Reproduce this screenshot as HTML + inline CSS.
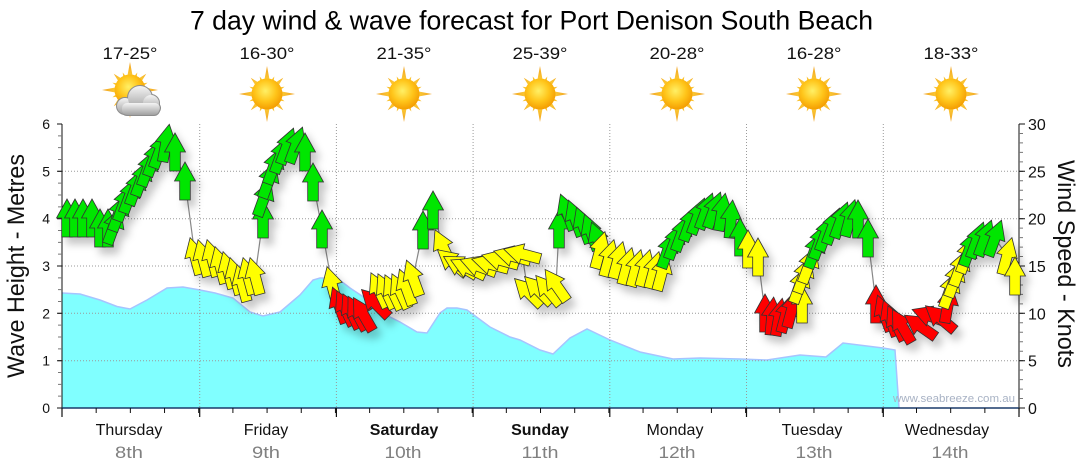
<!DOCTYPE html>
<html><head><meta charset="utf-8"><style>
html,body{margin:0;padding:0;background:#fff;}
svg{display:block;font-family:"Liberation Sans",sans-serif;}
</style></head><body>
<svg width="1080" height="475" viewBox="0 0 1080 475" xmlns="http://www.w3.org/2000/svg">
<defs>
<path id="ar" d="M0,-19 L10.5,0 L5.3,0 L5.3,19 L-5.3,19 L-5.3,0 L-10.5,0 Z" stroke="#333" stroke-width="0.8" stroke-linejoin="miter"/>
<radialGradient id="rayg" gradientUnits="userSpaceOnUse" cx="0" cy="0" r="28">
<stop offset="0.4" stop-color="#ffd43a"/><stop offset="1" stop-color="#f0a020"/></radialGradient>
<radialGradient id="disk" cx="0.45" cy="0.4" r="0.62">
<stop offset="0" stop-color="#fff066"/><stop offset="0.55" stop-color="#ffc51a"/><stop offset="1" stop-color="#f39a00"/></radialGradient>
<linearGradient id="cloudg" x1="0" y1="0" x2="0" y2="1">
<stop offset="0" stop-color="#f4f4f4"/><stop offset="1" stop-color="#a0a0a0"/></linearGradient>
<polygon id="rL" points="-3,-12 0,-28 3,-12"/>
<polygon id="rM" points="-2.6,-12 0,-23 2.6,-12"/>
<polygon id="rS" points="-2,-12 0,-19 2,-12"/>
<g id="sun">
<g fill="url(#rayg)">
<use href="#rL"/><use href="#rL" transform="rotate(90)"/><use href="#rL" transform="rotate(180)"/><use href="#rL" transform="rotate(270)"/>
<use href="#rM" transform="rotate(45)"/><use href="#rM" transform="rotate(135)"/><use href="#rM" transform="rotate(225)"/><use href="#rM" transform="rotate(315)"/>
<use href="#rS" transform="rotate(22.5)"/><use href="#rS" transform="rotate(67.5)"/><use href="#rS" transform="rotate(112.5)"/><use href="#rS" transform="rotate(157.5)"/>
<use href="#rS" transform="rotate(202.5)"/><use href="#rS" transform="rotate(247.5)"/><use href="#rS" transform="rotate(292.5)"/><use href="#rS" transform="rotate(337.5)"/>
</g>
<circle r="15.5" fill="url(#disk)"/>
</g>
<filter id="sh" x="-5%" y="-10%" width="115%" height="140%">
<feDropShadow dx="5" dy="7" stdDeviation="4" flood-color="#000" flood-opacity="0.22"/>
</filter>
</defs>

<!-- title -->
<text x="190" y="29.5" font-size="27" fill="#000" textLength="683" lengthAdjust="spacingAndGlyphs">7 day wind &amp; wave forecast for Port Denison South Beach</text>

<!-- temps -->
<g font-size="17" fill="#111" text-anchor="middle">
<text x="130" y="59" textLength="55" lengthAdjust="spacingAndGlyphs">17-25°</text>
<text x="267" y="59" textLength="55" lengthAdjust="spacingAndGlyphs">16-30°</text>
<text x="404" y="59" textLength="55" lengthAdjust="spacingAndGlyphs">21-35°</text>
<text x="540" y="59" textLength="55" lengthAdjust="spacingAndGlyphs">25-39°</text>
<text x="677" y="59" textLength="55" lengthAdjust="spacingAndGlyphs">20-28°</text>
<text x="814" y="59" textLength="55" lengthAdjust="spacingAndGlyphs">16-28°</text>
<text x="951" y="59" textLength="55" lengthAdjust="spacingAndGlyphs">18-33°</text>
</g>

<!-- suns -->
<use href="#sun" transform="translate(130,90)"/>
<use href="#sun" transform="translate(267,94)"/>
<use href="#sun" transform="translate(404,94)"/>
<use href="#sun" transform="translate(540,94)"/>
<use href="#sun" transform="translate(677,94)"/>
<use href="#sun" transform="translate(814,94)"/>
<use href="#sun" transform="translate(951,94)"/>
<!-- cloud -->
<g stroke="#8c8c8c" stroke-width="2" fill="#9a9a9a">
<circle cx="125" cy="106" r="8"/><circle cx="140" cy="98" r="12"/><circle cx="151" cy="103" r="8"/><circle cx="155" cy="108" r="5"/><rect x="122" y="103" width="37" height="12" rx="5"/>
</g>
<g fill="url(#cloudg)">
<circle cx="125" cy="106" r="8"/><circle cx="140" cy="98" r="12"/><circle cx="151" cy="103" r="8"/><circle cx="155" cy="108" r="5"/><rect x="122" y="103" width="37" height="12" rx="5"/>
</g>

<!-- wave area -->
<polygon fill="#80ffff" points="62,293 80,294 100,300 117,306.5 130,309 147,300 167,288 183,287 200,290 215,293 233,298 250,312 263,316 280,312 300,295 313,280 320,278 337,278 350,288 365,298 380,312 400,322 417,332 427,333 440,313 447,308 457,308 467,310 490,327 510,337 520,340 540,350 553,354 570,338 587,329 610,340 640,352 673,359 700,358 740,359 767,360 800,355 826,357 843,343 883,348 895,350 899,408 62,408"/>
<polyline fill="none" stroke="#a6c4ff" stroke-width="1.5" points="62,293 80,294 100,300 117,306.5 130,309 147,300 167,288 183,287 200,290 215,293 233,298 250,312 263,316 280,312 300,295 313,280 320,278 337,278 350,288 365,298 380,312 400,322 417,332 427,333 440,313 447,308 457,308 467,310 490,327 510,337 520,340 540,350 553,354 570,338 587,329 610,340 640,352 673,359 700,358 740,359 767,360 800,355 826,357 843,343 883,348 895,350 899,408"/>

<!-- grid -->
<g stroke="#9a9a9a" stroke-width="1" stroke-dasharray="1 2" fill="none">
<path d="M62,360.7H1019M62,313.3H1019M62,266H1019M62,218.7H1019M62,171.3H1019"/>
<path d="M199.7,124V408M336.4,124V408M473.1,124V408M609.8,124V408M746.5,124V408M883.3,124V408"/>
</g>

<!-- watermark -->
<text x="893" y="402" font-size="11" fill="#a8b2c4" textLength="122" lengthAdjust="spacingAndGlyphs">www.seabreeze.com.au</text>

<!-- axes -->
<line x1="62" y1="124" x2="62" y2="408" stroke="#111" stroke-width="1"/>
<line x1="1019" y1="124" x2="1019" y2="408" stroke="#111" stroke-width="1"/>
<line x1="61.5" y1="408" x2="1019.5" y2="408" stroke="#1a3a6a" stroke-width="1.5"/>
<line x1="60" y1="123.5" x2="60" y2="409" stroke="#777" stroke-width="4" stroke-dasharray="1 10.833"/>
<path d="M57,124H62M57,171.3H62M57,218.7H62M57,266H62M57,313.3H62M57,360.7H62M57,408H62" stroke="#111" stroke-width="1"/>
<line x1="1021" y1="123.5" x2="1021" y2="409" stroke="#777" stroke-width="4" stroke-dasharray="1 8.467"/>
<path d="M1019,124H1025M1019,171.3H1025M1019,218.7H1025M1019,266H1025M1019,313.3H1025M1019,360.7H1025M1019,408H1025" stroke="#111" stroke-width="1"/>
<line x1="61.5" y1="410.5" x2="1021" y2="410.5" stroke="#111" stroke-width="5" stroke-dasharray="1 33.18"/>
<path d="M62,408V417M199.7,408V417M336.4,408V417M473.1,408V417M609.8,408V417M746.5,408V417M883.3,408V417M1019,408V417" stroke="#111" stroke-width="1.2"/>

<!-- left labels -->
<g font-size="14" fill="#111" text-anchor="end">
<text x="50" y="129">6</text><text x="50" y="176.3">5</text><text x="50" y="223.7">4</text><text x="50" y="271">3</text><text x="50" y="318.3">2</text><text x="50" y="365.7">1</text><text x="50" y="413">0</text>
</g>
<!-- right labels -->
<g font-size="16" fill="#111">
<text x="1028" y="130">30</text><text x="1028" y="177.3">25</text><text x="1028" y="224.7">20</text><text x="1028" y="272">15</text><text x="1028" y="319.3">10</text><text x="1028" y="366.7">5</text><text x="1028" y="414">0</text>
</g>

<!-- axis titles -->
<text transform="translate(24,266) rotate(-90)" font-size="24" fill="#111" text-anchor="middle" textLength="224" lengthAdjust="spacingAndGlyphs">Wave Height - Metres</text>
<text transform="translate(1058,264) rotate(90)" font-size="24" fill="#111" text-anchor="middle" textLength="208" lengthAdjust="spacingAndGlyphs">Wind Speed - Knots</text>

<!-- day labels -->
<g font-size="16" fill="#111" text-anchor="middle">
<text x="129" y="435">Thursday</text>
<text x="266" y="435">Friday</text>
<text x="404" y="435" font-weight="bold">Saturday</text>
<text x="540" y="435" font-weight="bold">Sunday</text>
<text x="675" y="435">Monday</text>
<text x="812" y="435">Tuesday</text>
<text x="947" y="435">Wednesday</text>
</g>
<g font-size="17" fill="#808080" text-anchor="middle">
<text x="129" y="458" textLength="28" lengthAdjust="spacingAndGlyphs">8th</text>
<text x="266" y="458" textLength="28" lengthAdjust="spacingAndGlyphs">9th</text>
<text x="403" y="458" textLength="37" lengthAdjust="spacingAndGlyphs">10th</text>
<text x="540" y="458" textLength="37" lengthAdjust="spacingAndGlyphs">11th</text>
<text x="677" y="458" textLength="37" lengthAdjust="spacingAndGlyphs">12th</text>
<text x="814" y="458" textLength="37" lengthAdjust="spacingAndGlyphs">13th</text>
<text x="950" y="458" textLength="37" lengthAdjust="spacingAndGlyphs">14th</text>
</g>

<!-- wind line -->
<polyline fill="none" stroke="#888" stroke-width="1.2" points="67,218 75,218 83,218 92,218 100,228 108,228 114,226 119,213 124,203 130,195 136,187 142,178 148,168 154,158 160,150 166,143 175,152 185,181 195,256 203,258 212,258 220,265 228,270 235,276 242,283 248,276 255,276 263,219 264,198 269,180 274,166 281,155 287,146 296,145 305,152 313,182 322,229 332,285 339,305 345,308 351,311 357,313 363,314 375,303 379,290 386,291 393,292 400,291 406,287 413,278 423,230 433,210 443,247 452,262 460,266 468,268 478,266 490,264 500,260 512,256 522,254 528,292 538,290 548,290 556,285 559,229 567,212 575,218 583,225 591,232 598,240 600,250 609,258 618,260 627,266 636,268 645,268 654,270 662,272 668,250 675,241 682,233 690,223 698,216 706,211 714,210 722,212 731,219 740,237 748,249 758,257 765,313 772,316 779,317 786,314 792,309 802,304 800,285 804,275 809,265 815,250 820,241 826,233 833,226 841,220 850,218 858,219 868,238 876,304 884,313 890,318 896,323 902,326 920,326 930,316 940,318 948,304 950,290 955,279 960,268 967,255 970,248 977,240 985,238 995,238 1007,256 1015,276"/>

<!-- arrows -->
<g filter="url(#sh)">
<g fill="#00e600">
<use href="#ar" transform="translate(67,218)"/>
<use href="#ar" transform="translate(75,218)"/>
<use href="#ar" transform="translate(83,218)"/>
<use href="#ar" transform="translate(92,218)"/>
<use href="#ar" transform="translate(100,228)"/>
<use href="#ar" transform="translate(108,228)"/>
<use href="#ar" transform="translate(114,226) rotate(20)"/>
<use href="#ar" transform="translate(119,213) rotate(20)"/>
<use href="#ar" transform="translate(124,203) rotate(20)"/>
<use href="#ar" transform="translate(130,195) rotate(20)"/>
<use href="#ar" transform="translate(136,187) rotate(20)"/>
<use href="#ar" transform="translate(142,178) rotate(20)"/>
<use href="#ar" transform="translate(148,168) rotate(20)"/>
<use href="#ar" transform="translate(154,158) rotate(20)"/>
<use href="#ar" transform="translate(160,150) rotate(20)"/>
<use href="#ar" transform="translate(166,143) rotate(10)"/>
<use href="#ar" transform="translate(175,152)"/>
<use href="#ar" transform="translate(185,181)"/>
</g>
<g fill="#ffff00">
<use href="#ar" transform="translate(195,256) rotate(-15)"/>
<use href="#ar" transform="translate(203,258) rotate(-15)"/>
<use href="#ar" transform="translate(212,258) rotate(-15)"/>
<use href="#ar" transform="translate(220,265) rotate(-15)"/>
<use href="#ar" transform="translate(228,270) rotate(-15)"/>
<use href="#ar" transform="translate(235,276) rotate(-15)"/>
<use href="#ar" transform="translate(242,283) rotate(-15)"/>
<use href="#ar" transform="translate(248,276) rotate(-15)"/>
<use href="#ar" transform="translate(255,276) rotate(-15)"/>
</g>
<g fill="#00e600">
<use href="#ar" transform="translate(263,219)"/>
<use href="#ar" transform="translate(264,198) rotate(20)"/>
<use href="#ar" transform="translate(269,180) rotate(20)"/>
<use href="#ar" transform="translate(274,166) rotate(20)"/>
<use href="#ar" transform="translate(281,155) rotate(20)"/>
<use href="#ar" transform="translate(287,146) rotate(20)"/>
<use href="#ar" transform="translate(296,145) rotate(20)"/>
<use href="#ar" transform="translate(305,152)"/>
<use href="#ar" transform="translate(313,182)"/>
<use href="#ar" transform="translate(322,229)"/>
</g>
<g fill="#ffff00">
<use href="#ar" transform="translate(332,285) rotate(-15)"/>
</g>
<g fill="#ff0000">
<use href="#ar" transform="translate(339,305) rotate(-20)"/>
<use href="#ar" transform="translate(345,308) rotate(-25)"/>
<use href="#ar" transform="translate(351,311) rotate(-25)"/>
<use href="#ar" transform="translate(357,313) rotate(-28)"/>
<use href="#ar" transform="translate(363,314) rotate(-30)"/>
<use href="#ar" transform="translate(375,303) rotate(-45)"/>
</g>
<g fill="#ffff00">
<use href="#ar" transform="translate(379,290) rotate(-25)"/>
<use href="#ar" transform="translate(386,291) rotate(-25)"/>
<use href="#ar" transform="translate(393,292) rotate(-25)"/>
<use href="#ar" transform="translate(400,291) rotate(-25)"/>
<use href="#ar" transform="translate(406,287) rotate(-20)"/>
<use href="#ar" transform="translate(413,278) rotate(-20)"/>
</g>
<g fill="#00e600">
<use href="#ar" transform="translate(423,230)"/>
<use href="#ar" transform="translate(433,210)"/>
</g>
<g fill="#ffff00">
<use href="#ar" transform="translate(443,247) rotate(-25)"/>
<use href="#ar" transform="translate(452,262) rotate(-50)"/>
<use href="#ar" transform="translate(460,266) rotate(-60)"/>
<use href="#ar" transform="translate(468,268) rotate(-65)"/>
<use href="#ar" transform="translate(478,266) rotate(-70)"/>
<use href="#ar" transform="translate(490,264) rotate(-75)"/>
<use href="#ar" transform="translate(500,260) rotate(-75)"/>
<use href="#ar" transform="translate(512,256) rotate(-75)"/>
<use href="#ar" transform="translate(522,254) rotate(-75)"/>
<use href="#ar" transform="translate(528,292) rotate(-45)"/>
<use href="#ar" transform="translate(538,290) rotate(-45)"/>
<use href="#ar" transform="translate(548,290) rotate(-40)"/>
<use href="#ar" transform="translate(556,285) rotate(-35)"/>
</g>
<g fill="#00e600">
<use href="#ar" transform="translate(559,229)"/>
<use href="#ar" transform="translate(567,212) rotate(-20)"/>
<use href="#ar" transform="translate(575,218) rotate(-20)"/>
<use href="#ar" transform="translate(583,225) rotate(-20)"/>
<use href="#ar" transform="translate(591,232) rotate(-20)"/>
<use href="#ar" transform="translate(598,240) rotate(-20)"/>
</g>
<g fill="#ffff00">
<use href="#ar" transform="translate(600,250) rotate(15)"/>
<use href="#ar" transform="translate(609,258) rotate(15)"/>
<use href="#ar" transform="translate(618,260) rotate(15)"/>
<use href="#ar" transform="translate(627,266) rotate(15)"/>
<use href="#ar" transform="translate(636,268) rotate(15)"/>
<use href="#ar" transform="translate(645,268) rotate(15)"/>
<use href="#ar" transform="translate(654,270) rotate(15)"/>
<use href="#ar" transform="translate(662,272) rotate(15)"/>
</g>
<g fill="#00e600">
<use href="#ar" transform="translate(668,250) rotate(20)"/>
<use href="#ar" transform="translate(675,241) rotate(20)"/>
<use href="#ar" transform="translate(682,233) rotate(20)"/>
<use href="#ar" transform="translate(690,223) rotate(20)"/>
<use href="#ar" transform="translate(698,216) rotate(20)"/>
<use href="#ar" transform="translate(706,211) rotate(20)"/>
<use href="#ar" transform="translate(714,210) rotate(20)"/>
<use href="#ar" transform="translate(722,212) rotate(10)"/>
<use href="#ar" transform="translate(731,219) rotate(5)"/>
<use href="#ar" transform="translate(740,237)"/>
</g>
<g fill="#ffff00">
<use href="#ar" transform="translate(748,249)"/>
<use href="#ar" transform="translate(758,257)"/>
</g>
<g fill="#ff0000">
<use href="#ar" transform="translate(765,313)"/>
<use href="#ar" transform="translate(772,316) rotate(5)"/>
<use href="#ar" transform="translate(779,317) rotate(10)"/>
<use href="#ar" transform="translate(786,314) rotate(15)"/>
<use href="#ar" transform="translate(792,309) rotate(15)"/>
</g>
<g fill="#ffff00">
<use href="#ar" transform="translate(802,304)"/>
<use href="#ar" transform="translate(800,285) rotate(20)"/>
<use href="#ar" transform="translate(804,275) rotate(20)"/>
<use href="#ar" transform="translate(809,265) rotate(20)"/>
</g>
<g fill="#00e600">
<use href="#ar" transform="translate(815,250) rotate(20)"/>
<use href="#ar" transform="translate(820,241) rotate(20)"/>
<use href="#ar" transform="translate(826,233) rotate(20)"/>
<use href="#ar" transform="translate(833,226) rotate(20)"/>
<use href="#ar" transform="translate(841,220) rotate(20)"/>
<use href="#ar" transform="translate(850,218) rotate(15)"/>
<use href="#ar" transform="translate(858,219)"/>
<use href="#ar" transform="translate(868,238)"/>
</g>
<g fill="#ff0000">
<use href="#ar" transform="translate(876,304)"/>
<use href="#ar" transform="translate(884,313) rotate(-20)"/>
<use href="#ar" transform="translate(890,318) rotate(-20)"/>
<use href="#ar" transform="translate(896,323) rotate(-25)"/>
<use href="#ar" transform="translate(902,326) rotate(-30)"/>
<use href="#ar" transform="translate(920,326) rotate(-55)"/>
<use href="#ar" transform="translate(930,316) rotate(-70)"/>
<use href="#ar" transform="translate(940,318) rotate(-50)"/>
<use href="#ar" transform="translate(948,304) rotate(10)"/>
</g>
<g fill="#ffff00">
<use href="#ar" transform="translate(950,290) rotate(20)"/>
<use href="#ar" transform="translate(955,279) rotate(20)"/>
<use href="#ar" transform="translate(960,268) rotate(20)"/>
<use href="#ar" transform="translate(967,255) rotate(20)"/>
</g>
<g fill="#00e600">
<use href="#ar" transform="translate(970,248) rotate(20)"/>
<use href="#ar" transform="translate(977,240) rotate(20)"/>
<use href="#ar" transform="translate(985,238) rotate(20)"/>
<use href="#ar" transform="translate(995,238) rotate(20)"/>
</g>
<g fill="#ffff00">
<use href="#ar" transform="translate(1007,256) rotate(15)"/>
<use href="#ar" transform="translate(1015,276)"/>
</g>
</g>
</svg>
</body></html>
